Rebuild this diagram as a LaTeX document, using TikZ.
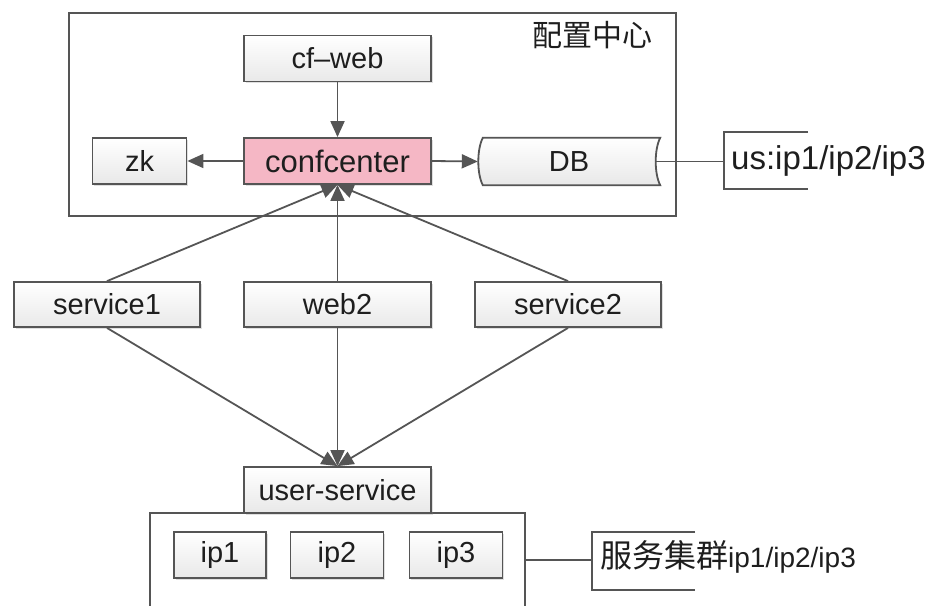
\documentclass[tikz,border=0pt]{standalone}
\usepackage{fontspec}
\setmainfont{Liberation Sans}
\newfontfamily\cjk{Noto Sans CJK SC}
\usetikzlibrary{arrows.meta,shadows,calc}
\definecolor{edgec}{HTML}{555555}
\definecolor{boxfill}{HTML}{F0F0F0}
\definecolor{pinkfill}{HTML}{F5B7C5}
\definecolor{txt}{HTML}{1E1E1E}
\tikzset{
  box/.style={draw=edgec, line width=1.8pt, top color=white, bottom color=boxfill!80!gray!60,
    minimum height=46pt, inner sep=0pt, text=txt,
    font=\fontsize{29}{32}\selectfont,
    drop shadow={opacity=0.25, shadow xshift=1.5pt, shadow yshift=-1.5pt}},
  pinkbox/.style={box, top color=pinkfill, bottom color=pinkfill},
  frame/.style={draw=edgec, line width=1.8pt},
  conn/.style={draw=edgec, line width=1.8pt},
  arr/.style={conn, -{Triangle[length=16pt,width=14pt]}},
  lbl/.style={text=txt, inner sep=0pt, font=\fontsize{29}{32}\selectfont},
}
\begin{document}
\begin{tikzpicture}[x=1pt,y=-1pt]
\clip (0,0) rectangle (933,605);
\fill[white] (0,0) rectangle (933,605);

% frames
\draw[frame] (69,13) rectangle (676,216);
\node[lbl, font=\cjk\fontsize{30}{32}\selectfont] (title) at (592,35) {配置中心};
\draw[frame] (150,513) rectangle (525,620);

% top group
\node[box, minimum width=187pt] (cfweb) at (337.5,58.5) {cf–web};
\node[pinkbox, minimum width=187pt, font=\fontsize{31}{32}\selectfont] (conf) at (337.5,161) {confcenter};
\node[box, minimum width=94pt] (zk) at (139.5,161) {zk};
\node[inner sep=0pt, minimum width=182pt, minimum height=47pt] (db) at (569,161.5) {};
\fill[edgec, opacity=0.25, shift={(1.5,1.5)}]
  ($(db.north west)+(5,0)$) .. controls ($(db.west)+(-1,-12)$) and ($(db.west)+(-1,12)$) .. ($(db.south west)+(5,0)$)
  -- (db.south east) .. controls ($(db.east)+(-6,12)$) and ($(db.east)+(-6,-12)$) .. (db.north east) -- cycle;
\path[draw=edgec, line width=1.8pt, top color=white, bottom color=boxfill!80!gray!60]
  ($(db.north west)+(5,0)$) .. controls ($(db.west)+(-1,-12)$) and ($(db.west)+(-1,12)$) .. ($(db.south west)+(5,0)$)
  -- (db.south east) .. controls ($(db.east)+(-6,12)$) and ($(db.east)+(-6,-12)$) .. (db.north east) -- cycle;
\node[lbl] (dbtext) at (db.center) {DB};

% middle row
\node[box, minimum width=186pt, minimum height=45pt] (s1) at (107,304.5) {service1};
\node[box, minimum width=187pt, minimum height=45pt] (web2) at (337.5,304.5) {web2};
\node[box, minimum width=186pt, minimum height=45pt] (s2) at (568,304.5) {service2};

% bottom
\node[box, minimum width=187pt, minimum height=46pt] (us) at (337.5,490) {user-service};
\node[box, minimum width=92pt, minimum height=46pt] (ip1) at (220,555) {ip1};
\node[box, minimum width=93pt, minimum height=46pt] (ip2) at (337,555) {ip2};
\node[box, minimum width=93pt, minimum height=46pt] (ip3) at (456,555) {ip3};

% arrows top
\draw[arr] (cfweb.south) -- (conf.north);
\draw[arr] (conf.west) -- (zk.east);
\draw[arr] (conf.east) -- (db.west);
\draw[arr] (s1.north) -- (conf.south);
\draw[arr] (web2.north) -- (conf.south);
\draw[arr] (s2.north) -- (conf.south);
% arrows bottom
\draw[arr] (s1.south) -- (us.north);
\draw[arr] (web2.south) -- (us.north);
\draw[arr] (s2.south) -- (us.north);

% annotation DB
\coordinate (a1) at (724,161.5);
\coordinate (a1t) at (724,132);
\coordinate (a1b) at (724,189);
\draw[conn] ($(db.east)+(-4,0)$) -- (a1);
\draw[conn] (808,132) -- (a1t) -- (a1b) -- (808,189);
\node[lbl, anchor=west, font=\fontsize{33}{34}\selectfont] (us1) at (731,161) {us:ip1/ip2/ip3};

% annotation cluster
\coordinate (c0) at (525,560);
\coordinate (c1) at (592,560);
\coordinate (c1t) at (592,532);
\coordinate (c1b) at (592,590);
\draw[conn] (c0) -- (c1);
\draw[conn] (695,532) -- (c1t) -- (c1b) -- (695,590);
\node[lbl, anchor=west, font=\fontsize{28}{30}\selectfont] (cl) at (600,557) {{\cjk\fontsize{32}{32}\selectfont 服务集群}ip1/ip2/ip3};
\end{tikzpicture}
\end{document}
